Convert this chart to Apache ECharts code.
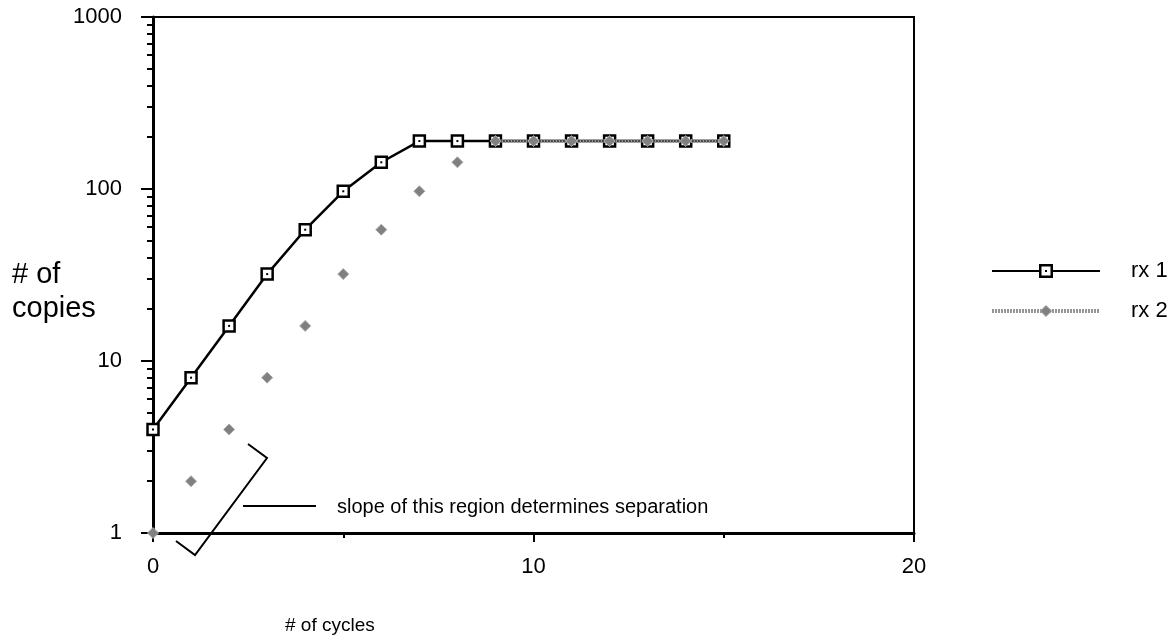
<!DOCTYPE html>
<html>
<head>
<meta charset="utf-8">
<script src="https://cdn.jsdelivr.net/npm/echarts@6/dist/echarts.min.js"></script>
<style>
  html, body { margin: 0; padding: 0; background: #fff; }
  #chart { width: 1173px; height: 641px; }
</style>
</head>
<body>
<div id="chart"></div>
<script>
// ---- data ----
var cycles = [0, 1, 2, 3, 4, 5, 6, 7, 8, 9, 10, 11, 12, 13, 14, 15];
var rx1 = [4, 8, 16, 32, 58, 97, 143, 190, 190, 190, 190, 190, 190, 190, 190, 190];
var rx2 = [1, 2, 4, 8, 16, 32, 58, 97, 143, 190, 190, 190, 190, 190, 190, 190];
var rx2LineFromCycle = 9;            // rx 2 is joined by a line only on its plateau
var seriesNames = ['rx 1', 'rx 2'];
var xTicks = [0, 10, 20];
var yTicks = [1, 10, 100, 1000];
var yMinorTicks = [2, 3, 4, 5, 6, 7, 8, 9, 20, 30, 40, 50, 60, 70, 80, 90,
                   200, 300, 400, 500, 600, 700, 800, 900];
var xTitle = '# of cycles';
var yTitle = '# of\ncopies';
var note = 'slope of this region determines separation';

// ---- build ----
var FONT = '"Liberation Sans", Arial, sans-serif';
function pairs(ys) { return cycles.map(function (c, i) { return [c, ys[i]]; }); }
var rx2Line = cycles.map(function (c, i) { return [c, c >= rx2LineFromCycle ? rx2[i] : null]; });

var chart = echarts.init(document.getElementById('chart'), null, { renderer: 'canvas' });

var rx1Icon = 'path://M0,6h47v2H0z M61,6h47v2H61z M47,0h14v14H47z M49.5,2.5v9h9v-9z M53,6h2v2h-2z';
var rx2Style = { color: '#808080', borderColor: '#aaa', borderWidth: 1 };
var rx2LineStyle = { color: '#959595', width: 4, type: [2, 1] };

var option = {
  animation: false,
  backgroundColor: '#fff',
  grid: { left: 153, top: 17, right: 259, bottom: 108, show: true, borderColor: '#000', borderWidth: 2, backgroundColor: 'transparent' },
  legend: {
    orient: 'vertical',
    left: 985, top: 255,
    itemWidth: 108, itemHeight: 14, itemGap: 18,
    textStyle: { fontFamily: FONT, fontSize: 22, color: '#000', padding: [0, 0, 0, 26] },
    selectedMode: false,
    data: [
      { name: seriesNames[0], icon: rx1Icon, itemStyle: { color: '#000', borderWidth: 0 } },
      { name: seriesNames[1], lineStyle: rx2LineStyle, itemStyle: rx2Style }
    ]
  },
  xAxis: {
    type: 'value', min: xTicks[0], max: xTicks[xTicks.length - 1], interval: 10,
    axisLine: { lineStyle: { color: '#000', width: 3 } },
    axisTick: { length: 9, lineStyle: { color: '#000', width: 2 } },
    minorTick: { show: true, splitNumber: 2, length: 5, lineStyle: { color: '#000', width: 2 } },
    axisLabel: { fontFamily: FONT, fontSize: 22, color: '#000', margin: 23 },
    splitLine: { show: false }
  },
  yAxis: [{
    type: 'log', logBase: 10, min: 1, max: 1000,
    axisLine: { lineStyle: { color: '#000', width: 3 } },
    axisTick: { length: 6, customValues: yMinorTicks, lineStyle: { color: '#000', width: 2 } },
    axisLabel: { fontFamily: FONT, fontSize: 22, color: '#000', margin: 31, customValues: yTicks,
                 formatter: function (v) { return String(Math.round(v)); } },
    splitLine: { show: false }
  }, {
    type: 'log', logBase: 10, min: 1, max: 1000, position: 'left',
    axisLine: { show: false },
    axisTick: { length: 12, customValues: yTicks, lineStyle: { color: '#000', width: 2 } },
    axisLabel: { show: false },
    splitLine: { show: false }
  }],
  series: [{
    name: seriesNames[0], type: 'line', data: pairs(rx1), clip: false, z: 3,
    symbol: 'rect', symbolSize: 11,
    itemStyle: { color: '#fff', borderColor: '#000', borderWidth: 2.5 },
    lineStyle: { color: '#000', width: 2.5 }
  }, {
    name: seriesNames[1], type: 'line', data: rx2Line, clip: false, z: 4,
    symbol: 'diamond', symbolSize: 11, showSymbol: false, connectNulls: false,
    itemStyle: rx2Style,
    lineStyle: rx2LineStyle
  }, {
    name: 'rx1-centre', type: 'line', data: pairs(rx1), clip: false, z: 4,
    symbol: 'rect', symbolSize: 2, lineStyle: { width: 0, opacity: 0 },
    itemStyle: { color: '#000' }, silent: true
  }, {
    name: seriesNames[1], type: 'line', data: pairs(rx2), clip: false, z: 5,
    symbol: 'diamond', symbolSize: 11,
    itemStyle: rx2Style,
    lineStyle: { width: 0, opacity: 0 }
  }],
  graphic: [
    { type: 'polyline', z: 10, shape: { points: [[248, 444], [267, 458], [195, 555], [176, 541]] },
      style: { stroke: '#000', lineWidth: 2, fill: null } },
    { type: 'line', z: 10, shape: { x1: 243, y1: 506, x2: 316, y2: 506 }, style: { stroke: '#000', lineWidth: 2 } },
    { type: 'text', z: 10, left: 337, top: 497, style: { text: note, font: '20px ' + FONT, fill: '#000' } },
    { type: 'text', z: 10, left: 12, top: 258, style: { text: yTitle, font: '29px ' + FONT, fill: '#000', lineHeight: 34 } },
    { type: 'text', z: 10, left: 285, top: 616, style: { text: xTitle, font: '19px ' + FONT, fill: '#000' } }
  ]
};
chart.setOption(option);
</script>
</body>
</html>
